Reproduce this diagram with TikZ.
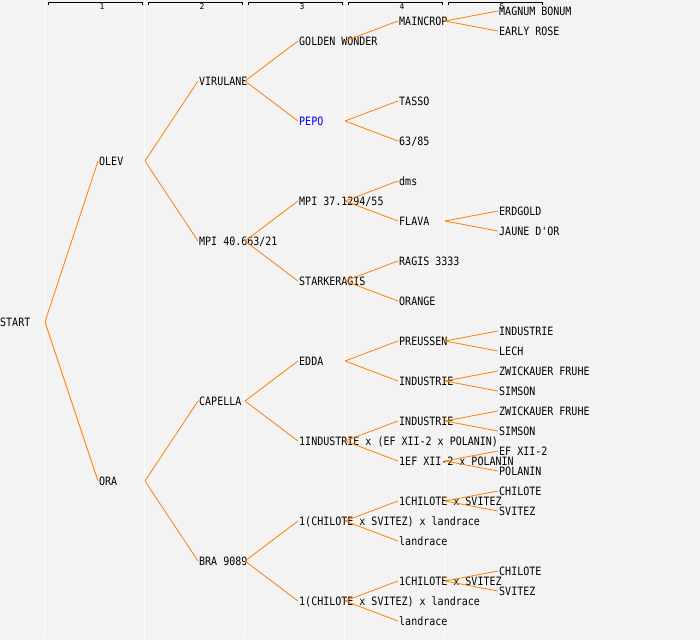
\documentclass[tikz,border=0pt]{standalone}
\usepackage{fontspec}
\newfontfamily\treemono[FakeStretch=0.87]{DejaVu Sans Mono}
\newfontfamily\hdrmono{DejaVu Sans Mono}
\definecolor{bgc}{HTML}{F3F3F3}
\definecolor{lnc}{HTML}{FF8000}
\definecolor{pepoc}{HTML}{0000FF}
\begin{document}
\begin{tikzpicture}[x=1pt,y=-1pt,
  lbl/.style={anchor=west,inner xsep=1pt,inner ysep=0pt,text height=8.4pt,text depth=0pt,
    font=\treemono\fontsize{11.5}{13}\selectfont,text=black},
  conn/.style={draw=lnc,line width=0.8pt},
  sep/.style={draw=white,line width=1.2pt},
  hdr/.style={draw=black,line width=0.9pt},
  hdrnum/.style={font=\hdrmono\fontsize{8}{9}\selectfont,inner sep=0pt}]
\useasboundingbox (0,0) rectangle (700,640);
\fill[bgc] (0,0) rectangle (700,640);
% column separators
\foreach \k in {0,...,4} \draw[sep] (100*\k+44.5,0) -- (100*\k+44.5,638);
% headers
\foreach \k in {1,...,5} {
  \draw[hdr] (100*\k-52,5) -- (100*\k-52,2) -- (100*\k+42,2) -- (100*\k+42,5);
  \node[hdrnum] (h\k) at (100*\k+2,6.5) {\k};
}
% level 0
\node[lbl] (start) at (-1,322) {START};
% level 1
\node[lbl] (olev) at (98,161) {OLEV};
\node[lbl] (ora) at (98,481) {ORA};
% level 2
\node[lbl] (vir) at (198,81) {VIRULANE};
\node[lbl] (mpia) at (198,241) {MPI 40.663/21};
\node[lbl] (cap) at (198,401) {CAPELLA};
\node[lbl] (bra) at (198,561) {BRA 9089};
% level 3
\node[lbl] (gw) at (298,41) {GOLDEN WONDER};
\node[lbl,text=pepoc] (pepo) at (298,121) {PEPO};
\node[lbl] (mpib) at (298,201) {MPI 37.1294/55};
\node[lbl] (stark) at (298,281) {STARKERAGIS};
\node[lbl] (edda) at (298,361) {EDDA};
\node[lbl] (indx) at (298,441) {1INDUSTRIE x (EF XII-2 x POLANIN)};
\node[lbl] (chla) at (298,521) {1(CHILOTE x SVITEZ) x landrace};
\node[lbl] (chlb) at (298,601) {1(CHILOTE x SVITEZ) x landrace};
% level 4
\node[lbl] (mainc) at (398,21) {MAINCROP};
\node[lbl] (tasso) at (398,101) {TASSO};
\node[lbl] (six) at (398,141) {63/85};
\node[lbl] (dms) at (398,181) {dms};
\node[lbl] (flava) at (398,221) {FLAVA};
\node[lbl] (ragis) at (398,261) {RAGIS 3333};
\node[lbl] (orange) at (398,301) {ORANGE};
\node[lbl] (preus) at (398,341) {PREUSSEN};
\node[lbl] (inda) at (398,381) {INDUSTRIE};
\node[lbl] (indb) at (398,421) {INDUSTRIE};
\node[lbl] (efx) at (398,461) {1EF XII-2 x POLANIN};
\node[lbl] (chxa) at (398,501) {1CHILOTE x SVITEZ};
\node[lbl] (landa) at (398,541) {landrace};
\node[lbl] (chxb) at (398,581) {1CHILOTE x SVITEZ};
\node[lbl] (landb) at (398,621) {landrace};
% level 5
\node[lbl] (mb) at (498,11) {MAGNUM BONUM};
\node[lbl] (er) at (498,31) {EARLY ROSE};
\node[lbl] (erd) at (498,211) {ERDGOLD};
\node[lbl] (jau) at (498,231) {JAUNE D'OR};
\node[lbl] (indc) at (498,331) {INDUSTRIE};
\node[lbl] (lech) at (498,351) {LECH};
\node[lbl] (zwa) at (498,371) {ZWICKAUER FRUHE};
\node[lbl] (sima) at (498,391) {SIMSON};
\node[lbl] (zwb) at (498,411) {ZWICKAUER FRUHE};
\node[lbl] (simb) at (498,431) {SIMSON};
\node[lbl] (ef) at (498,451) {EF XII-2};
\node[lbl] (pol) at (498,471) {POLANIN};
\node[lbl] (chia) at (498,491) {CHILOTE};
\node[lbl] (sva) at (498,511) {SVITEZ};
\node[lbl] (chib) at (498,571) {CHILOTE};
\node[lbl] (svb) at (498,591) {SVITEZ};
% connectors
\foreach \c in {olev,ora} \draw[conn] ([xshift=46pt]start.west) -- (\c.west);
\foreach \p/\c in {olev/vir,olev/mpia,ora/cap,ora/bra,
  vir/gw,vir/pepo,mpia/mpib,mpia/stark,cap/edda,cap/indx,bra/chla,bra/chlb,
  gw/mainc,pepo/tasso,pepo/six,mpib/dms,mpib/flava,stark/ragis,stark/orange,
  edda/preus,edda/inda,indx/indb,indx/efx,chla/chxa,chla/landa,chlb/chxb,chlb/landb,
  mainc/mb,mainc/er,flava/erd,flava/jau,preus/indc,preus/lech,inda/zwa,inda/sima,
  indb/zwb,indb/simb,efx/ef,efx/pol,chxa/chia,chxa/sva,chxb/chib,chxb/svb}
  \draw[conn] ([xshift=47pt]\p.west) -- (\c.west);
\end{tikzpicture}
\end{document}
